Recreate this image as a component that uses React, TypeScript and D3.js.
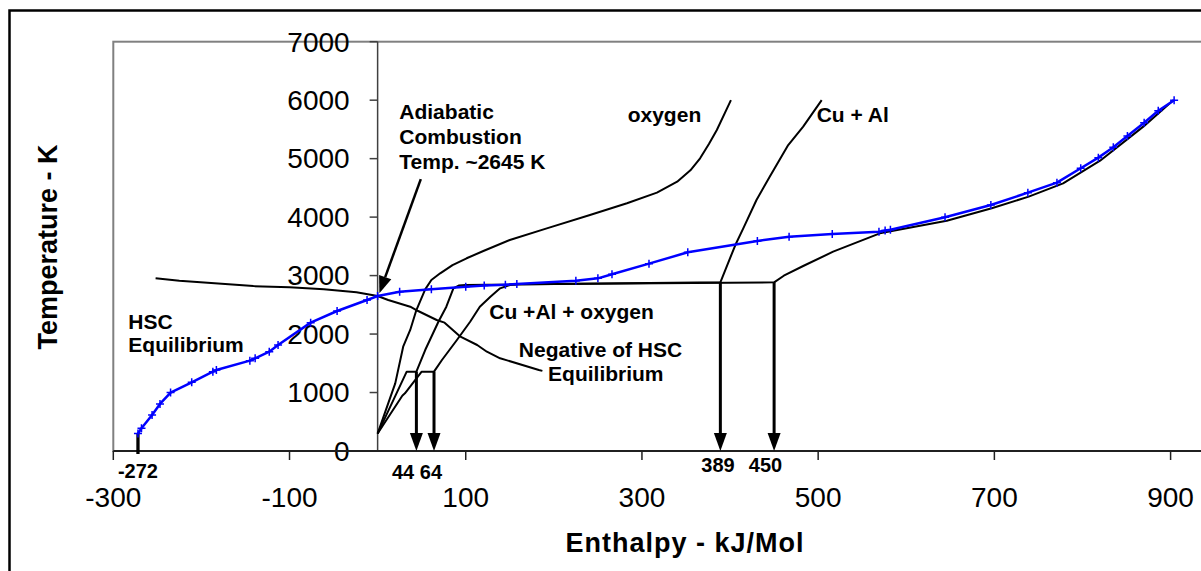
import React from 'react';
import * as d3 from 'd3';

// HSC Equilibrium (blue, with markers)
const hscH = [-272, -268, -256, -247, -235, -211, -187, -183, -145, -139, -123, -113, -76, -46, -12, 0, 25, 61, 100, 121, 145, 158, 225, 250, 266, 308, 352, 431, 467, 516, 569, 576, 582, 644, 696, 738, 771, 798, 818, 835, 851, 870, 886, 904];
const hscT = [298, 390, 615, 805, 1000, 1175, 1357, 1385, 1545, 1585, 1698, 1813, 2195, 2394, 2583, 2650, 2725, 2765, 2810, 2830, 2844, 2855, 2913, 2953, 3022, 3204, 3398, 3592, 3665, 3711, 3751, 3770, 3785, 3997, 4207, 4418, 4589, 4835, 5017, 5194, 5387, 5615, 5820, 6000];

// Negative of HSC Equilibrium
const negH = [-252, -225, -141, -100, -61, -24, 0, 12, 37, 46, 67, 76, 94, 113, 124, 139, 147, 183, 187];
const negT = [2953, 2913, 2820, 2800, 2765, 2716, 2650, 2583, 2468, 2394, 2240, 2195, 1955, 1813, 1698, 1585, 1550, 1385, 1370];

// oxygen
const oxyH = [0, 14, 20, 29, 37, 44, 54, 61, 71, 85, 101, 120, 150, 192, 241, 283, 317, 340, 355, 366, 376, 385, 401];
const oxyT = [298, 900, 1157, 1784, 2070, 2411, 2765, 2925, 3039, 3180, 3296, 3420, 3609, 3808, 4036, 4236, 4418, 4606, 4800, 5006, 5250, 5490, 6000];

// Cu + Al
const cuAlH = [0, 33, 44, 54, 69, 78, 86, 92, 100, 389, 406, 415, 430, 445, 466, 483, 504];
const cuAlT = [298, 1357, 1357, 1727, 2211, 2468, 2782, 2830, 2840, 2885, 3523, 3808, 4293, 4691, 5233, 5547, 6000];

// Cu + Al + oxygen
const cuAlOxH = [0, 28, 31, 50, 64, 73, 90, 105, 116, 128, 139, 150, 160, 450, 461, 483, 517, 570, 646, 697, 739, 778, 820, 869, 903];
const cuAlOxT = [298, 946, 986, 1357, 1357, 1556, 1898, 2211, 2468, 2639, 2782, 2839, 2850, 2885, 2998, 3164, 3409, 3723, 3939, 4151, 4350, 4578, 4965, 5547, 6000];

// vertical arrows
const arrowH = [44, 64, 389, 450];
const arrowT = [1357, 1357, 2885, 2885];

// adiabatic arrow (tail -> tip)
const adiaH = [49, 2];
const adiaT = [4650, 2700];

const xTicks = [-300, -100, 100, 300, 500, 700, 900];
const xTickLabels = ['-300', '-100', '100', '300', '500', '700', '900'];
const yTicks = [0, 1000, 2000, 3000, 4000, 5000, 6000, 7000];
const yTickLabels = ['0', '1000', '2000', '3000', '4000', '5000', '6000', '7000'];

const FONT = 'Liberation Sans, Arial, Helvetica, sans-serif';

export default function App() {
  const x = d3.scaleLinear().domain([-300, 1000]).range([113.3, 1258.7]);
  const y = d3.scaleLinear().domain([0, 7000]).range([451, 41.7]);
  const line = d3.line<[number, number]>().x(d => x(d[0])).y(d => y(d[1]));
  const zip = (a: number[], b: number[]) => a.map((v, i) => [v, b[i]] as [number, number]);

  const blackCurves = [zip(negH, negT), zip(oxyH, oxyT), zip(cuAlH, cuAlT), zip(cuAlOxH, cuAlOxT)];
  const hsc = zip(hscH, hscT);

  // adiabatic arrow
  const tx = x(adiaH[0]), ty = y(adiaT[0]);
  const px = x(adiaH[1]), py = y(adiaT[1]);
  const len = Math.hypot(px - tx, py - ty);
  const ux = (px - tx) / len, uy = (py - ty) / len;
  const hl = 17, hw = 6.5;
  const bx = px - ux * hl, by = py - uy * hl;
  const adiaHead = `${px},${py} ${bx - uy * hw},${by + ux * hw} ${bx + uy * hw},${by - ux * hw}`;

  const bold = { fontFamily: FONT, fontWeight: 'bold' as const, fill: '#000' };

  return (
    <svg width={1201} height={571} style={{ position: 'absolute', left: 0, top: 0, background: '#fff' }}>
      <rect x={0} y={0} width={1201} height={571} fill="#fff" />
      {/* outer frame */}
      <rect x={9.5} y={10.5} width={1400} height={700} fill="none" stroke="#000" strokeWidth={2.5} />
      {/* plot area border */}
      <rect x={x(-300)} y={y(7000)} width={x(1000) - x(-300)} height={y(0) - y(7000)} fill="none" stroke="#808080" strokeWidth={2} />

      {/* y axis */}
      <line x1={x(0)} x2={x(0)} y1={y(0)} y2={y(7000)} stroke="#404040" strokeWidth={1.5} />
      {yTicks.map((t, i) => (
        <g key={'yt' + i}>
          <line x1={x(0) - 8} x2={x(0)} y1={y(t)} y2={y(t)} stroke="#404040" strokeWidth={1.5} />
          <text x={x(0) - 28} y={y(t)} dy="0.35em" textAnchor="end" fontFamily={FONT} fontSize={28} fill="#000">{yTickLabels[i]}</text>
        </g>
      ))}

      {/* x axis */}
      <line x1={x(-300)} x2={x(1000)} y1={y(0)} y2={y(0)} stroke="#202020" strokeWidth={2} />
      {xTicks.map((t, i) => (
        <g key={'xt' + i}>
          <line x1={x(t)} x2={x(t)} y1={y(0)} y2={y(0) + 9} stroke="#202020" strokeWidth={1.5} />
          <text x={x(t)} y={507} textAnchor="middle" fontFamily={FONT} fontSize={28} fill="#000">{xTickLabels[i]}</text>
        </g>
      ))}

      {/* -272 bar */}
      <line x1={x(hscH[0])} x2={x(hscH[0])} y1={y(hscT[0])} y2={y(0) + 3} stroke="#000" strokeWidth={3.3} />

      {/* black curves */}
      {blackCurves.map((c, i) => (
        <path key={'bc' + i} d={line(c) || ''} fill="none" stroke="#000" strokeWidth={2} strokeLinejoin="round" />
      ))}

      {/* vertical arrows */}
      {arrowH.map((h, i) => (
        <g key={'ar' + i}>
          <line x1={x(h)} x2={x(h)} y1={y(arrowT[i])} y2={y(0) - 14} stroke="#000" strokeWidth={3} />
          <polygon points={`${x(h) - 6.5},${y(0) - 18} ${x(h) + 6.5},${y(0) - 18} ${x(h)},${y(0)}`} fill="#000" />
        </g>
      ))}

      {/* adiabatic arrow */}
      <line x1={tx} y1={ty} x2={bx} y2={by} stroke="#000" strokeWidth={2.5} />
      <polygon points={adiaHead} fill="#000" />

      {/* HSC blue */}
      <path d={line(hsc) || ''} fill="none" stroke="#0000ff" strokeWidth={2.5} strokeLinejoin="round" />
      {hsc.map((d, i) => (
        <path key={'m' + i} d={`M${x(d[0]) - 4},${y(d[1])}h8M${x(d[0])},${y(d[1]) - 4}v8`} stroke="#0000ff" strokeWidth={1.5} />
      ))}

      {/* annotations */}
      <text x={x(hscH[0])} y={478} textAnchor="middle" fontSize={20} {...bold}>-272</text>
      <text x={392} y={479} fontSize={20} {...bold}>44 64</text>
      <text x={718} y={472} textAnchor="middle" fontSize={20} {...bold}>389</text>
      <text x={765.5} y={472} textAnchor="middle" fontSize={20} {...bold}>450</text>

      <text x={128.3} y={329} fontSize={21} {...bold}>HSC</text>
      <text x={128.3} y={352} fontSize={21} {...bold}>Equilibrium</text>

      <text x={399.3} y={119} fontSize={21} {...bold}>Adiabatic</text>
      <text x={399.3} y={144} fontSize={21} {...bold}>Combustion</text>
      <text x={399.3} y={169} fontSize={21} {...bold}>Temp. ~2645 K</text>

      <text x={627.7} y={122} fontSize={21} {...bold}>oxygen</text>
      <text x={816.7} y={122} fontSize={21} {...bold}>Cu + Al</text>
      <text x={489.3} y={319} fontSize={21} {...bold}>Cu +Al + oxygen</text>
      <text x={600.5} y={357} textAnchor="middle" fontSize={21} {...bold}>Negative of HSC</text>
      <text x={605.8} y={381} textAnchor="middle" fontSize={21} {...bold}>Equilibrium</text>

      <text x={685} y={552} textAnchor="middle" fontSize={27} letterSpacing={1} {...bold}>Enthalpy - kJ/Mol</text>
      <text transform="translate(57,247) rotate(-90)" textAnchor="middle" fontSize={27} {...bold}>Temperature - K</text>
    </svg>
  );
}
